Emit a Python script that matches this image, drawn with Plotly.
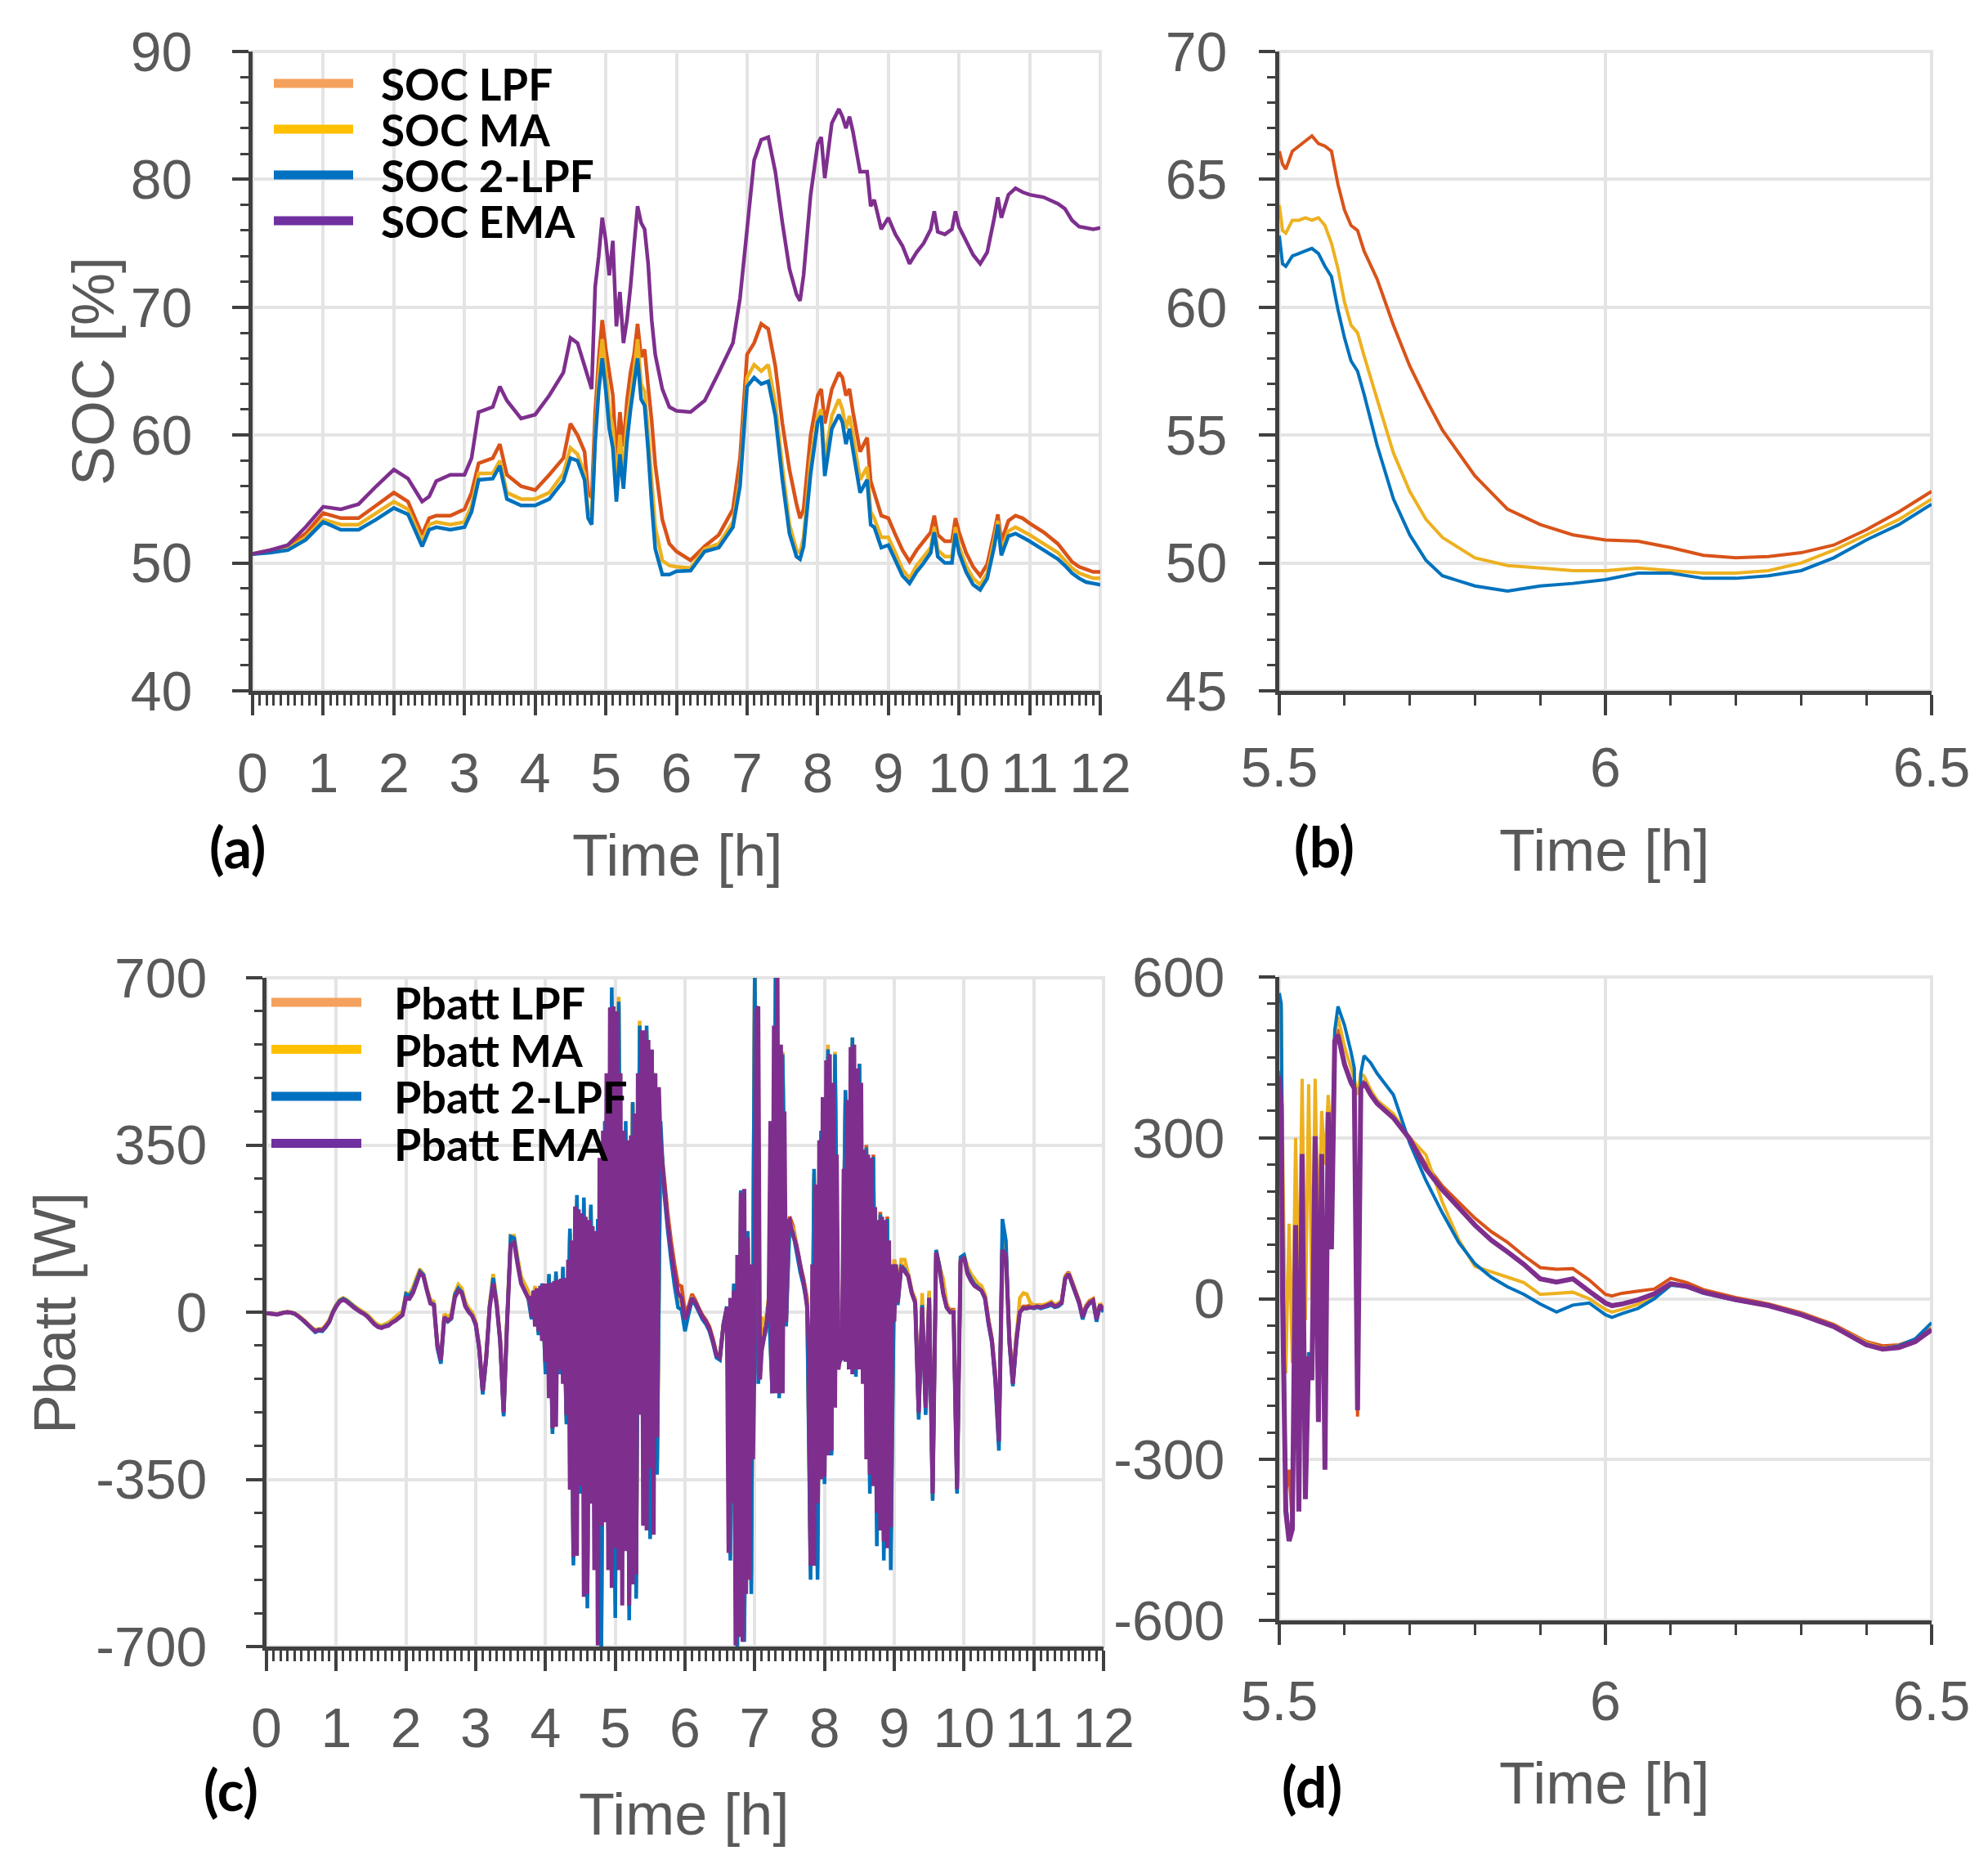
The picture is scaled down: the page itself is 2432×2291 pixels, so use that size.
"""Battery SOC / power comparison of four filters, four-panel figure (a)-(d)."""
import plotly.graph_objects as go
from plotly.subplots import make_subplots

W, H = 2432, 2291
PAGE_OFFSET = 8  # the html body margin shifts the whole figure by this much

# ---------------------------------------------------------------------------
# (a) SOC over 12 h
# ---------------------------------------------------------------------------
T_SOC = [
    0, 0.25, 0.5, 0.75, 1.0, 1.25, 1.5, 1.75, 2.0, 2.2,
    2.4, 2.5, 2.6, 2.8, 3.0, 3.1, 3.2, 3.4, 3.5, 3.6,
    3.8, 4.0, 4.2, 4.4, 4.5, 4.6, 4.7, 4.75, 4.8, 4.85,
    4.9, 4.95, 5.0, 5.05, 5.1, 5.15, 5.2, 5.25, 5.3, 5.35,
    5.4, 5.45, 5.5, 5.55, 5.6, 5.65, 5.7, 5.8, 5.9, 6.0,
    6.2, 6.4, 6.6, 6.8, 6.9, 7.0, 7.1, 7.2, 7.3, 7.4,
    7.5, 7.6, 7.7, 7.75, 7.8, 7.9, 8.0, 8.05, 8.1, 8.2,
    8.3, 8.35, 8.4, 8.45, 8.5, 8.6, 8.7, 8.75, 8.8, 8.9,
    9.0, 9.1, 9.2, 9.3, 9.4, 9.5, 9.6, 9.65, 9.7, 9.8,
    9.9, 9.95, 10.0, 10.1, 10.2, 10.3, 10.4, 10.5, 10.55, 10.6,
    10.7, 10.8, 10.9, 11.0, 11.2, 11.4, 11.5, 11.6, 11.7, 11.8,
    11.9, 12.0,
]
SOC_LPF = [
    50.7, 51.0, 51.3, 52.3, 53.9, 53.5, 53.5, 54.5, 55.5, 54.8,
    52.2, 53.5, 53.7, 53.7, 54.2, 55.5, 57.8, 58.2, 59.3, 56.9,
    56.0, 55.7, 56.9, 58.2, 60.9, 60.0, 58.7, 55.5, 55.1, 61.8,
    66.0, 69.0, 66.7, 64.9, 63.1, 58.2, 61.8, 59.1, 62.7, 64.9,
    66.3, 68.7, 66.1, 66.7, 63.8, 61.1, 57.7, 53.4, 51.5, 50.9,
    50.2, 51.3, 52.2, 54.2, 58.2, 66.3, 67.2, 68.7, 68.3, 65.4,
    60.9, 57.3, 54.6, 53.5, 54.2, 60.0, 63.1, 63.6, 60.9, 63.6,
    64.9, 64.5, 63.1, 63.6, 61.8, 58.7, 59.8, 56.4, 55.5, 53.7,
    53.5, 52.2, 51.0, 50.1, 51.0, 51.7, 52.4, 53.7, 52.2, 51.7,
    51.7, 53.5, 52.4, 50.8, 49.7, 49.0, 49.9, 52.4, 53.8, 51.7,
    53.3, 53.7, 53.5, 53.1, 52.4, 51.5, 50.8, 50.1, 49.7, 49.5,
    49.3, 49.3,
]
SOC_MA = [
    50.7, 50.9, 51.1, 52.0, 53.4, 53.0, 53.0, 53.9, 54.8, 54.2,
    51.7, 53.0, 53.2, 53.0, 53.2, 54.5, 57.0, 57.0, 58.0, 55.5,
    55.0, 55.0, 55.5, 57.0, 59.0, 58.5, 57.0, 54.0, 53.8, 60.0,
    64.5, 67.5, 65.0, 62.0, 60.5, 56.0, 60.0, 57.0, 61.0, 63.0,
    65.0, 67.5, 64.0, 63.4, 60.2, 56.4, 52.8, 50.2, 49.8, 49.7,
    49.6, 51.1, 51.5, 53.2, 56.5, 64.5, 65.5, 65.0, 65.5, 62.5,
    57.5, 53.0, 51.0, 50.8, 52.0, 58.0, 61.5, 62.0, 58.0, 61.5,
    62.8, 62.0, 60.5, 61.5, 60.0, 56.5, 57.5, 54.0, 53.5, 52.0,
    52.0, 50.8, 49.5, 48.8, 49.8, 50.5, 51.2, 52.8, 51.0, 50.5,
    50.5, 52.8, 51.3, 49.8, 48.8, 48.3, 49.2, 51.8, 53.3, 51.0,
    52.5, 52.8, 52.5, 52.2, 51.5, 50.8, 50.2, 49.6, 49.2, 49.0,
    48.8, 48.8,
]
SOC_2LPF = [
    50.7, 50.8, 51.0, 51.8, 53.2, 52.6, 52.6, 53.4, 54.3, 53.8,
    51.3, 52.6, 52.8, 52.6, 52.8, 54.0, 56.5, 56.6, 57.6, 55.0,
    54.5, 54.5, 55.0, 56.4, 58.2, 58.0, 56.5, 53.5, 53.0, 59.5,
    63.5, 66.0, 63.5, 60.5, 59.0, 54.8, 58.5, 55.8, 59.5, 62.0,
    64.0, 66.0, 62.8, 62.3, 58.8, 54.6, 51.1, 49.1, 49.1, 49.35,
    49.4, 50.9, 51.2, 52.8, 56.0, 63.8, 64.5, 64.0, 64.2, 61.5,
    56.5, 52.3, 50.5, 50.3, 51.3, 57.0, 61.0, 61.5, 56.8, 60.5,
    61.6, 61.0, 59.3, 60.5, 58.8, 55.5, 56.5, 53.0, 52.8, 51.2,
    51.4, 50.2, 49.0, 48.4, 49.3, 50.0, 50.8, 52.4, 50.5, 50.0,
    50.0, 52.3, 50.8, 49.3, 48.3, 47.9, 48.8, 51.3, 53.0, 50.6,
    52.1, 52.3, 52.0, 51.7, 51.0, 50.3, 49.8, 49.2, 48.8, 48.5,
    48.4, 48.3,
]
SOC_EMA = [
    50.7, 51.0, 51.4, 52.8, 54.4, 54.2, 54.6, 56.0, 57.3, 56.6,
    54.8, 55.2, 56.4, 56.9, 56.9, 58.2, 61.8, 62.2, 63.8, 62.7,
    61.3, 61.6, 63.1, 64.9, 67.6, 67.2, 65.4, 64.5, 63.6, 71.6,
    74.0, 77.0, 75.2, 72.5, 75.2, 68.5, 71.2, 67.2, 69.0, 71.6,
    74.8, 77.9, 76.6, 76.1, 73.4, 69.0, 66.3, 63.6, 62.2, 61.9,
    61.8, 62.7, 64.9, 67.2, 70.7, 76.1, 81.5, 83.1, 83.3, 80.6,
    76.6, 73.0, 71.0, 70.5, 72.5, 78.8, 82.8, 83.3, 80.1, 84.4,
    85.5, 84.9, 84.0, 84.9, 83.7, 80.6, 80.6, 77.9, 78.4, 76.1,
    77.0, 75.7, 74.8, 73.4, 74.3, 75.0, 76.1, 77.5, 75.9, 75.7,
    76.1, 77.5, 76.3, 75.2, 74.1, 73.4, 74.3, 77.0, 78.6, 77.0,
    78.8, 79.3, 79.0, 78.8, 78.6, 78.1, 77.7, 76.8, 76.3, 76.2,
    76.1, 76.2,
]

# ---------------------------------------------------------------------------
# (b) SOC zoom 5.5 - 6.5 h
# ---------------------------------------------------------------------------
T_SOC_ZOOM = [
    5.5, 5.505, 5.51, 5.52, 5.53, 5.54, 5.55, 5.56, 5.57, 5.58,
    5.59, 5.6, 5.61, 5.62, 5.63, 5.65, 5.675, 5.7, 5.725, 5.75,
    5.8, 5.85, 5.9, 5.95, 6.0, 6.05, 6.1, 6.15, 6.2, 6.25,
    6.3, 6.35, 6.4, 6.45, 6.5,
]
SOC_LPF_ZOOM = [
    66.1, 65.6, 65.4, 66.1, 66.3, 66.5, 66.7, 66.4, 66.3, 66.1,
    64.8, 63.8, 63.2, 63.0, 62.2, 61.1, 59.3, 57.7, 56.4, 55.2,
    53.4, 52.1, 51.5, 51.1, 50.9, 50.85, 50.6, 50.3, 50.2, 50.25,
    50.4, 50.7, 51.3, 52.0, 52.8,
]
SOC_MA_ZOOM = [
    64.0, 63.0, 62.9, 63.4, 63.4, 63.5, 63.4, 63.5, 63.2, 62.5,
    61.5, 60.2, 59.3, 59.0, 58.1, 56.4, 54.3, 52.8, 51.7, 51.0,
    50.2, 49.9, 49.8, 49.7, 49.7, 49.8, 49.7, 49.6, 49.6, 49.7,
    50.0, 50.5, 51.1, 51.7, 52.5,
]
SOC_2LPF_ZOOM = [
    62.8, 61.7, 61.6, 62.0, 62.1, 62.2, 62.3, 62.1, 61.6, 61.2,
    59.9, 58.8, 57.9, 57.5, 56.6, 54.6, 52.5, 51.1, 50.1, 49.5,
    49.1, 48.9, 49.1, 49.2, 49.35, 49.6, 49.6, 49.4, 49.4, 49.5,
    49.7, 50.2, 50.9, 51.5, 52.3,
]

# ---------------------------------------------------------------------------
# (c) Pbatt over 12 h.  LPF / MA / 2-LPF sampled every 0.05 h (one row = 1 h)
# ---------------------------------------------------------------------------
T_PB = [round(i * 0.05, 3) for i in range(241)]
PB_LPF = [
    -2, -3, -4, -5, -3, -1, 0, -1, -3, -8, -13, -19, -26, -33, -38, -36, -36, -28, -18, 0,
    14, 24, 28, 24, 18, 12, 7, 2, -2, -8, -16, -24, -29, -31, -28, -26, -20, -15, -9, -3,
    34, 32, 44, 64, 86, 78, 48, 22, 18, -66, -96, -6, -14, -8, 34, 48, 44, 16, 4, -4,
    -22, -72, -160, -90, 15, 65, 20, -55, -205, -15, 148, 150, 105, 65, 50, 35, -5, 50, -35, 50,
    -110, 70, -230, 75, -110, 80, -210, 165, -500, 225, -350, 220, -580, 215, -370, 185, -680, 375, -430, 650,
    -590, 640, -420, 375, -600, 435, -565, 600, -200, 580, -445, 490, -310, 360, 285, 210, 150, 100, 58, 54,
    0, 12, 38, 25, 8, -6, -16, -30, -55, -85, -90, -25, 10, -490, 55, -680, 240, -650, 160, -550,
    710, -130, -50, -30, 28, -150, 710, -160, 530, -10, 200, 180, 140, 100, 70, 30, -520, 280, -520, 370,
    -330, 535, -280, 520, -100, -80, 450, -90, 560, -120, 520, -110, 350, -290, 330, -350, 210, -445, 200, -480,
    110, 28, 100, 90, 80, 45, 25, -200, 18, -190, 38, -370, 130, 95, 45, 15, 5, 5, -360, 110,
    120, 85, 70, 60, 55, 50, 35, -15, -55, -130, -260, 140, 125, -50, -140, -50, 5, 12, 12, 14,
    14, 15, 14, 15, 18, 22, 15, 18, 24, 75, 84, 64, 44, 24, -6, 14, 24, 28, -12, 18,
    8,
]
PB_MA = [
    -2, -2, -3, -4, -2, 0, 1, 0, -2, -6, -12, -18, -25, -32, -37, -35, -35, -27, -16, 2,
    16, 26, 30, 26, 20, 14, 9, 4, 0, -6, -13, -21, -26, -28, -25, -22, -16, -10, -4, 2,
    40, 38, 52, 72, 90, 80, 50, 26, 22, -72, -104, -4, -10, -4, 40, 58, 50, 22, 8, 0,
    -20, -78, -170, -98, 18, 80, 24, -62, -215, -10, 160, 160, 115, 75, 60, 45, 5, 55, -45, 55,
    -125, 70, -250, 80, -125, 90, -230, 165, -520, 235, -370, 230, -600, 215, -390, 185, -700, 380, -450, 660,
    -610, 660, -440, 380, -620, 440, -590, 610, -220, 590, -470, 500, -330, 370, 260, 195, 130, 75, 25, 20,
    -30, 0, 32, 20, 4, -12, -22, -38, -62, -92, -98, -25, 10, -510, 50, -700, 240, -670, 160, -570,
    720, -130, -10, -30, 30, -165, 720, -175, 545, -15, 190, 175, 135, 95, 65, 25, -540, 290, -540, 370,
    -345, 560, -295, 545, -105, -85, 460, -100, 575, -130, 520, -120, 345, -305, 320, -365, 205, -460, 195, -495,
    110, 30, 110, 110, 80, 45, 28, -220, 40, -210, 45, -390, 125, 95, 70, 20, 0, 2, -375, 110,
    120, 95, 80, 70, 60, 55, 38, -15, -60, -140, -275, 150, 130, -55, -150, -55, 30, 40, 38, 20,
    14, 15, 14, 16, 18, 22, 16, 18, 24, 72, 82, 62, 42, 22, -8, 12, 22, 28, -12, 18,
    8,
]
PB_2LPF = [
    -2, -3, -4, -5, -3, -1, 0, -1, -3, -8, -14, -21, -28, -35, -42, -39, -40, -32, -21, 0,
    14, 24, 28, 24, 18, 12, 6, 1, -3, -9, -17, -25, -30, -32, -29, -27, -21, -17, -11, -5,
    38, 34, 45, 66, 85, 78, 46, 20, 16, -76, -108, -12, -20, -14, 36, 50, 42, 14, 2, -8,
    -28, -80, -172, -100, 12, 72, 18, -64, -218, -22, 158, 155, 105, 62, 45, 30, -15, 45, -48, 60,
    -130, 80, -255, 85, -130, 95, -235, 175, -530, 245, -380, 240, -620, 225, -400, 195, -720, 400, -460, 680,
    -640, 650, -455, 400, -645, 440, -600, 600, -230, 600, -475, 500, -340, 400, 250, 175, 110, 55, 10, 5,
    -40, -5, 25, 15, 0, -15, -25, -40, -65, -95, -100, -25, 12, -520, 60, -710, 255, -690, 170, -590,
    720, -150, -65, -45, 20, -170, 720, -180, 540, -30, 185, 165, 125, 85, 55, 15, -560, 300, -560, 380,
    -360, 550, -300, 540, -110, -95, 465, -105, 575, -135, 520, -125, 345, -380, 325, -490, 205, -520, 195, -540,
    100, 15, 95, 90, 75, 40, 20, -225, 15, -215, 30, -395, 130, 95, 40, 10, 0, 0, -380, 115,
    120, 85, 70, 58, 52, 45, 28, -25, -65, -150, -290, 195, 150, -65, -155, -65, 0, 8, 8, 10,
    8, 10, 8, 10, 12, 15, 10, 12, 18, 70, 80, 58, 38, 18, -15, 8, 18, 22, -20, 15,
    0,
]

# EMA is the top (visible) curve: finer 0.025 h sampling inside the two bursts
T_PB_EMA = (
    [round(0.05 * i, 3) for i in range(76)]            # 0.00 .. 3.75
    + [round(3.775 + 0.025 * i, 3) for i in range(76)]  # 3.775 .. 5.65
    + [round(5.70 + 0.05 * i, 3) for i in range(18)]    # 5.70 .. 6.55
    + [round(6.575 + 0.025 * i, 3) for i in range(100)]  # 6.575 .. 9.05
    + [round(9.10 + 0.05 * i, 3) for i in range(59)]    # 9.10 .. 12.00
)
PB_EMA = [
    # 0.00 .. 3.75 (0.05 h)
    -2, -3, -4, -5, -3, -1, 0, -1, -3, -8, -14, -20, -27, -34, -40, -37, -38, -30, -20, -2,
    12, 22, 26, 22, 16, 10, 5, 0, -4, -10, -18, -26, -31, -33, -30, -28, -22, -18, -12, -6,
    30, 28, 40, 60, 82, 75, 45, 18, 15, -70, -100, -10, -18, -12, 30, 45, 40, 12, 0, -8,
    -25, -75, -165, -95, 10, 60, 15, -60, -210, -20, 140, 145, 100, 60, 45, 30,
    # 3.775 .. 5.65 (0.025 h)
    30, -10, 45, -30, 50, -40, 55, -60, 60, -104,
    60, -180, 62, -243, 65, -240, 68, -120, 70, -150,
    72, -215, 110, -372, 150, -512, 221, -510, 215, -364,
    207, -596, 200, -590, 193, -401, 180, -540, 170, -698,
    323, -447, 380, -440, 500, -540, 638, -577, 640, -494,
    630, -540, 500, -614, 380, -500, 360, -614, 370, -570,
    416, -549, 500, -215, 590, -447, 590, -457, 570, -327,
    550, -466, 500, -262, 471, 350,
    # 5.70 .. 6.55 (0.05 h)
    270, 190, 130, 80, 40, 30, -15, 5, 30, 20, 5, -10, -20, -35, -60, -90, -95, -30,
    # 6.575 .. 9.05 (0.025 h)
    -10, 10, -504, 30, -400, 45, -698, 120, -680, 250,
    -690, 258, -590, 156, -560, 100, -308, -50, 633, 640,
    -141, -80, -60, -40, -20, 20, 400, -170, 600, -170,
    710, -170, 560, -170, 420, -20, 190, 193, 175, 160,
    150, 137, 120, 100, 80, 63, 40, 10, -76, -531,
    100, -531, 267, -400, 360, -350, 450, -345, 527, -300,
    540, -290, 480, -200, 330, -120, -90, -100, 300, -104,
    444, -120, 555, -130, 560, -120, 510, -120, 480, -150,
    340, -308, 330, -340, 323, -364, 220, -420, 193, -457,
    200, -480, 193, -494, 150, -450, 100, -20, 100, 20,
    # 9.10 .. 12.00 (0.05 h)
    95, 85, 75, 40, 20, -210, 10, -200, 30, -380, 125, 90, 40, 10, 0, 0, -370, 105,
    115, 80, 65, 55, 50, 45, 30, -20, -60, -140, -270, 130, 120, -60, -150, -60, 0, 8, 8, 10,
    10, 12, 10, 12, 15, 18, 12, 15, 20, 70, 80, 60, 40, 20, -10, 10, 20, 25, -15, 15,
    5,
]

# ---------------------------------------------------------------------------
# (d) Pbatt zoom 5.5 - 6.5 h
# ---------------------------------------------------------------------------
T_PB_ZOOM = [
    5.5, 5.503, 5.505, 5.51, 5.515, 5.52, 5.525, 5.53, 5.535, 5.54,
    5.545, 5.55, 5.555, 5.56, 5.565, 5.57, 5.575, 5.58, 5.585, 5.59,
    5.6, 5.61, 5.615, 5.62, 5.625, 5.63, 5.64, 5.65, 5.675, 5.7,
    5.725, 5.75, 5.775, 5.8, 5.825, 5.85, 5.875, 5.9, 5.925, 5.95,
    5.975, 6.0, 6.01, 6.025, 6.05, 6.075, 6.1, 6.125, 6.15, 6.2,
    6.25, 6.3, 6.35, 6.4, 6.425, 6.45, 6.475, 6.5,
]
PB_LPF_ZOOM = [
    425, 380, 20, -360, -319, -420, 150, -380, 260, -360,
    -100, -150, 290, -220, 260, -300, 340, 100, 470, 503,
    440, 405, 395, -220, 398, 405, 385, 370, 340, 300,
    250, 210, 180, 150, 125, 105, 80, 58, 55, 56,
    35, 8, 5, 10, 14, 18, 38, 30, 17, 2,
    -10, -26, -48, -80, -88, -86, -76, -55,
]
PB_MA_ZOOM = [
    560, 540, 300, -140, 140, -120, 300, 0, 410, -40,
    400, 0, 410, 100, 350, 250, 380, 280, 490, 525,
    470, 430, 410, 380, 420, 415, 390, 370, 345, 300,
    268, 180, 110, 60, 50, 40, 30, 8, 10, 12,
    0, -20, -25, -20, -10, 5, 28, 24, 12, -2,
    -12, -28, -50, -82, -92, -88, -78, -55,
]
PB_2LPF_ZOOM = [
    570, 550, 150, -380, -440, -420, 120, -380, 250, -360,
    -100, -140, 290, -220, 260, -310, 340, 100, 500, 545,
    510, 460, 430, -200, 420, 453, 440, 420, 380, 290,
    220, 160, 105, 65, 40, 22, 8, -10, -25, -12,
    -8, -30, -35, -28, -18, 0, 25, 22, 10, -3,
    -13, -30, -52, -85, -93, -88, -75, -45,
]
PB_EMA_ZOOM = [
    415, 359, 3, -397, -452, -430, 137, -397, 270, -374,
    -108, -152, 303, -230, 270, -319, 348, 92, 481, 492,
    437, 403, 392, -208, 392, 403, 381, 364, 337, 298,
    242, 203, 170, 137, 109, 87, 64, 37, 31, 37,
    14, -8, -13, -10, -2, 9, 28, 23, 12, -2,
    -13, -30, -52, -86, -94, -91, -80, -58,
]

PB_TICKS = [-700, -350, 0, 350, 700]
PB_ZOOM_TICKS = [-600, -300, 0, 300, 600]

FILTERS = ["LPF", "MA", "2-LPF", "EMA"]
LINE_COLORS = {"LPF": "#D95319", "MA": "#EDB120", "2-LPF": "#0072BD", "EMA": "#7E2F8E"}
LEGEND_COLORS = {"LPF": "#F4A15D", "MA": "#FFC000", "2-LPF": "#0070C0", "EMA": "#7030A0"}

AXIS_DARK = "#404040"
GRID = "#E4E4E4"
TEXT_GREY = "#595959"
NUM_FONT = "Liberation Sans, Arial"
LABEL_FONT = "Lato, Calibri, sans-serif"

# plot-area boxes in target pixels: (left, right, top, bottom)
BOX_A = (309, 1346, 63, 845)
BOX_B = (1565, 2363, 63, 845)
BOX_C = (326, 1350, 1196, 2014)
BOX_D = (1565, 2363, 1195, 1982)


def _px(x):
    return (x - PAGE_OFFSET) / W


def _py(y):
    return 1 - (y - PAGE_OFFSET) / H


def _dom(box):
    l, r, t, b = box
    return [_px(l), _px(r)], [_py(b), _py(t)]


fig = make_subplots(rows=2, cols=2)

panels = [
    (1, 1, [T_SOC] * 4, [SOC_LPF, SOC_MA, SOC_2LPF, SOC_EMA], [4.5, 4.5, 4.5, 4.5]),
    (1, 2, [T_SOC_ZOOM] * 4, [SOC_LPF_ZOOM, SOC_MA_ZOOM, SOC_2LPF_ZOOM, None], [4, 4, 4, 4]),
    (2, 1, [T_PB, T_PB, T_PB, T_PB_EMA], [PB_LPF, PB_MA, PB_2LPF, PB_EMA], [4.5, 4.5, 4.5, 5]),
    (2, 2, [T_PB_ZOOM] * 4, [PB_LPF_ZOOM, PB_MA_ZOOM, PB_2LPF_ZOOM, PB_EMA_ZOOM], [4, 4, 4, 6]),
]
for row, col, times, series, widths in panels:
    for name, t, ys, lw in zip(FILTERS, times, series, widths):
        if ys is None:
            continue
        assert len(ys) == len(t), (name, row, col, len(ys), len(t))
        fig.add_trace(go.Scatter(
            x=t, y=ys, mode="lines", name=name, showlegend=False,
            # no simplification: the fast zig-zags must stay dense
            line=dict(color=LINE_COLORS[name], width=lw, simplify=False),
        ), row=row, col=col)

base_axis = dict(
    showline=True, linecolor=AXIS_DARK, linewidth=5,
    ticks="outside", tickcolor=AXIS_DARK, tickwidth=4,
    showgrid=True, gridcolor=GRID, gridwidth=4,
    zeroline=False, automargin=False,
    tickfont=dict(family=NUM_FONT, size=68, color=TEXT_GREY),
)


def xaxis(box, rng, dtick, standoff):
    dom, _ = _dom(box)
    return dict(base_axis, domain=dom, range=rng, dtick=dtick, tick0=rng[0],
                ticklen=25, ticklabelstandoff=standoff,
                minor=dict(dtick=0.1, ticks="outside", ticklen=13, tickwidth=3,
                           tickcolor=AXIS_DARK, showgrid=False))


def yaxis(box, rng, minor, standoff, ticks=None, dtick=None):
    _, dom = _dom(box)
    ax = dict(base_axis, domain=dom, range=rng, ticklen=20, ticklabelstandoff=standoff,
              minor=dict(dtick=minor, ticks="outside", ticklen=10, tickwidth=3,
                         tickcolor=AXIS_DARK, showgrid=False))
    if ticks is not None:
        # plain hyphen for negative labels, as in the original figure
        ax.update(tickmode="array", tickvals=ticks, ticktext=[str(v) for v in ticks])
    else:
        ax.update(dtick=dtick, tick0=0)
    return ax


fig.update_layout(
    xaxis=xaxis(BOX_A, [0, 12], 1, 12),
    yaxis=yaxis(BOX_A, [40, 90], 2, 35, dtick=10),
    xaxis2=xaxis(BOX_B, [5.5, 6.5], 0.5, 5),
    yaxis2=yaxis(BOX_B, [45, 70], 1, 25, dtick=5),
    xaxis3=xaxis(BOX_C, [0, 12], 1, 11),
    yaxis3=yaxis(BOX_C, [-700, 700], 70, 34, ticks=PB_TICKS),
    xaxis4=xaxis(BOX_D, [5.5, 6.5], 0.5, 10),
    yaxis4=yaxis(BOX_D, [-600, 600], 50, 28, ticks=PB_ZOOM_TICKS),
)

# light grey frame on top / right of each plot area
for i in ["", "2", "3", "4"]:
    fig.add_shape(type="rect", xref=f"x{i} domain", yref=f"y{i} domain",
                  x0=0, x1=1, y0=0, y1=1, layer="below",
                  line=dict(color=GRID, width=4))


def text(x, y, s, font, size, color, angle=0, anchor="center", bold=False, height=None):
    fig.add_annotation(
        x=_px(x), y=_py(y), xref="paper", yref="paper", text=s, showarrow=False,
        xanchor=anchor, yanchor="middle", textangle=angle, height=height,
        font=dict(family=font, size=size, color=color, weight="bold" if bold else "normal"),
    )


# axis titles
text(828, 1046, "Time [h]", NUM_FONT, 72, TEXT_GREY)
text(1962, 1040, "Time [h]", NUM_FONT, 72, TEXT_GREY)
text(836, 2219, "Time [h]", NUM_FONT, 72, TEXT_GREY)
text(1962, 2181, "Time [h]", NUM_FONT, 72, TEXT_GREY)
text(114, 454, "SOC [%]", NUM_FONT, 72, TEXT_GREY, angle=-90)
text(67, 1606, "Pbatt [W]", NUM_FONT, 72, TEXT_GREY, angle=-90)

# panel letters
text(290, 1035, "(a)", LABEL_FONT, 68, "black", bold=True)
text(1620, 1034, "(b)", LABEL_FONT, 68, "black", bold=True)
text(282, 2188, "(c)", LABEL_FONT, 68, "black", bold=True)
text(1605, 2184, "(d)", LABEL_FONT, 68, "black", bold=True)

# hand-placed legends (long sample lines, bold labels)
LEGENDS = [
    ("SOC", 335, 432, 464, [102, 158, 214, 270], 53),
    ("Pbatt", 332, 442, 480, [1226, 1283.5, 1341, 1398.5], 54),
]
for prefix, lx0, lx1, tx, rows, size in LEGENDS:
    for name, ly in zip(FILTERS, rows):
        fig.add_shape(type="line", xref="paper", yref="paper",
                      x0=_px(lx0), x1=_px(lx1), y0=_py(ly), y1=_py(ly),
                      line=dict(color=LEGEND_COLORS[name], width=11))
        text(tx, ly, f"{prefix} {name}", LABEL_FONT, size, "black",
             anchor="left", bold=True, height=50)

fig.update_layout(
    width=W, height=H,
    margin=dict(l=0, r=0, t=0, b=0),
    paper_bgcolor="white", plot_bgcolor="white",
    showlegend=False,
)

fig.write_html("out.html")
